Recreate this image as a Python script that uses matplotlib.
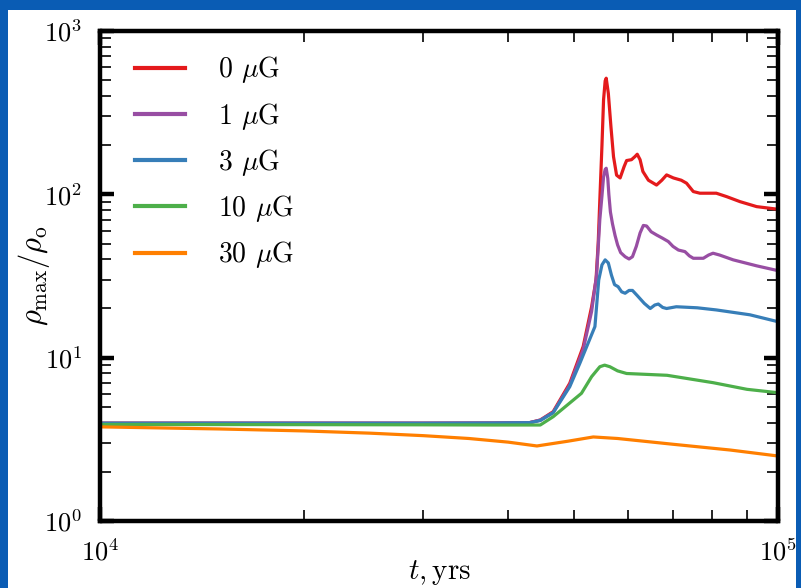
import numpy as np
import matplotlib
matplotlib.use('Agg')
import matplotlib.pyplot as plt
from matplotlib.patches import Rectangle
from matplotlib.ticker import NullFormatter

plt.rcParams.update({'font.family': 'serif', 'font.serif': ['cmr10'],
                     'mathtext.fontset': 'cm', 'axes.formatter.use_mathtext': True,
                     'axes.unicode_minus': False})

labels = [r'0 $\mu$G', r'1 $\mu$G', r'3 $\mu$G', r'10 $\mu$G', r'30 $\mu$G']
colors = ['#e41a1c', '#984ea3', '#377eb8', '#4daf4a', '#ff7f00']

# 0 uG
t0 = [1.0e4, 2.0e4, 3.0e4, 3.8e4, 4.3e4, 4.46e4, 4.66e4, 4.93e4, 5.16e4, 5.31e4, 5.39e4,
      5.43e4, 5.46e4, 5.50e4, 5.53e4, 5.56e4, 5.58e4, 5.62e4, 5.67e4, 5.72e4, 5.78e4,
      5.85e4, 5.93e4, 5.98e4, 6.08e4, 6.15e4, 6.20e4, 6.26e4, 6.32e4, 6.44e4, 6.62e4,
      6.74e4, 6.85e4, 7.01e4, 7.20e4, 7.33e4, 7.50e4, 7.67e4, 8.11e4, 8.40e4, 8.79e4,
      9.30e4, 1.0e5]
r0 = [3.97, 3.97, 3.97, 3.98, 4.0, 4.15, 4.67, 6.97, 11.7, 20.5, 29.9,
      50, 92, 200, 380, 495, 514, 416, 260, 170, 131,
      126, 148, 161, 163, 170, 176, 163, 138, 122, 114,
      122, 131.5, 126, 122, 117, 104, 101.6, 101.6, 96.8, 90.2,
      84.1, 81]
# 1 uG
t1 = [1.0e4, 2.0e4, 3.0e4, 3.8e4, 4.3e4, 4.46e4, 4.66e4, 4.93e4, 5.16e4, 5.31e4, 5.40e4,
      5.46e4, 5.50e4, 5.53e4, 5.56e4, 5.58e4, 5.61e4, 5.63e4, 5.66e4, 5.70e4, 5.75e4,
      5.80e4, 5.86e4, 5.95e4, 6.03e4, 6.10e4, 6.18e4, 6.26e4, 6.33e4, 6.40e4, 6.50e4,
      6.62e4, 6.75e4, 6.89e4, 7.00e4, 7.13e4, 7.29e4, 7.40e4, 7.50e4, 7.76e4, 7.90e4,
      8.02e4, 8.20e4, 8.59e4, 9.30e4, 1.0e5]
r1 = [3.97, 3.97, 3.97, 3.98, 4.0, 4.15, 4.62, 6.8, 11.2, 19.2, 32,
      70, 98, 128, 142, 144.5, 125, 100, 78, 66, 56,
      49, 44, 41.5, 40.2, 41.5, 48, 58, 64.5, 64, 59,
      56.4, 54, 51.4, 48, 45.6, 44.6, 42, 40.6, 40.6, 42.5,
      43.6, 42.5, 39.7, 36.5, 34.1]
# 3 uG
t3 = [1.0e4, 2.0e4, 3.0e4, 3.8e4, 4.3e4, 4.46e4, 4.66e4, 4.93e4, 5.10e4, 5.37e4, 5.41e4,
      5.44e4, 5.50e4, 5.56e4, 5.62e4, 5.68e4, 5.74e4, 5.81e4, 5.88e4, 5.95e4, 6.03e4,
      6.10e4, 6.20e4, 6.35e4, 6.48e4, 6.58e4, 6.66e4, 6.76e4, 6.85e4, 7.08e4, 7.60e4,
      8.11e4, 9.09e4, 1.0e5]
r3 = [3.97, 3.97, 3.97, 3.98, 4.0, 4.12, 4.6, 6.64, 9.2, 15.5, 22.6,
      29.9, 37, 39.7, 38, 32, 28, 27.2, 25.3, 24.8, 25.8,
      25.8, 24, 21.5, 20.0, 21.0, 21.3, 20.3, 20.0, 20.5, 20.2,
      19.6, 18.3, 16.6]
# 10 uG
t10 = [1.0e4, 2.0e4, 3.0e4, 3.8e4, 4.46e4, 4.66e4, 5.13e4, 5.31e4, 5.46e4, 5.55e4, 5.65e4,
       5.80e4, 5.98e4, 6.86e4, 8.02e4, 9.0e4, 1.0e5]
r10 = [3.9, 3.89, 3.88, 3.87, 3.87, 4.35, 6.05, 7.65, 8.8, 9.0, 8.8,
       8.3, 8.0, 7.8, 7.03, 6.4, 6.1]
# 30 uG
t30 = [1.0e4, 1.5e4, 2.0e4, 2.5e4, 3.0e4, 3.5e4, 4.0e4, 4.41e4, 4.9e4, 5.34e4, 5.8e4,
       7.0e4, 8.5e4, 1.0e5]
r30 = [3.77, 3.66, 3.56, 3.45, 3.33, 3.2, 3.04, 2.88, 3.08, 3.27, 3.2,
       2.95, 2.72, 2.5]

series = [(t0, r0), (t1, r1), (t3, r3), (t10, r10), (t30, r30)]

fig = plt.figure(figsize=(8.01, 5.88), dpi=100, facecolor='#0a5cb4')
fig.patches.append(Rectangle((8 / 801, 0), 788 / 801, 578 / 588, transform=fig.transFigure,
                             facecolor='white', edgecolor='none', zorder=-10))
ax = fig.add_axes([100 / 801, 1 - 521 / 588, 678 / 801, 490 / 588])

for (t, r), c, lab in zip(series, colors, labels):
    ax.plot(t, r, color=c, lw=2.3, label=lab, solid_joinstyle='round')

ax.set_xscale('log')
ax.set_yscale('log')
ax.set_xlim(1e4, 1e5)
ax.set_ylim(1, 1e3)
ax.xaxis.set_minor_formatter(NullFormatter())

for s in ax.spines.values():
    s.set_linewidth(3.2)
ax.tick_params(which='both', direction='in', top=True, right=True, labelsize=19)
ax.tick_params(which='major', length=10, width=3.2, pad=13)
ax.tick_params(which='minor', length=8, width=1.2)

ax.set_xlabel(r'$t, {\rm yrs}$', fontsize=21, labelpad=-6)
ax.set_ylabel(r'$\rho_{\rm max}/\rho_{\rm o}$', fontsize=22, labelpad=-6)

leg = ax.legend(loc='upper left', frameon=False, fontsize=20, handlelength=1.8,
                handletextpad=1.2, labelspacing=0.55, borderaxespad=0,
                bbox_to_anchor=(0.035, 0.975))
for h in leg.get_lines():
    h.set_linewidth(3)

plt.savefig('out.png', dpi=100, facecolor=fig.get_facecolor())
plt.close()
